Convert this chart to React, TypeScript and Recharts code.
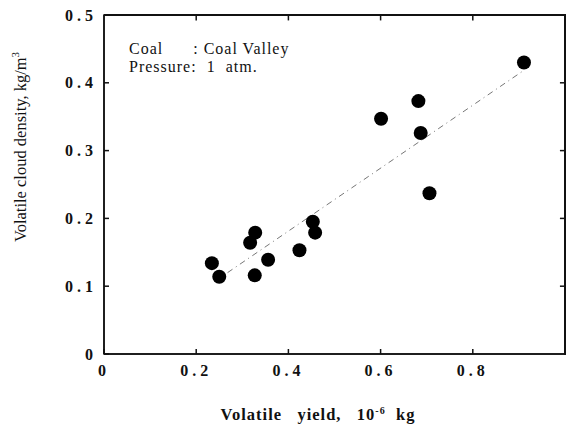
import React from 'react';
import { ScatterChart, Scatter, XAxis, YAxis, ReferenceLine, ReferenceArea } from 'recharts';

// measured points (Coal Valley, 1 atm)
const volatileYield = [0.234, 0.25, 0.317, 0.328, 0.327, 0.356, 0.424, 0.453, 0.458, 0.601, 0.682, 0.687, 0.706, 0.911];
const cloudDensity = [0.134, 0.114, 0.164, 0.179, 0.116, 0.139, 0.153, 0.195, 0.179, 0.347, 0.373, 0.326, 0.237, 0.43];

// fitted line end points
const fitYield = [0.268, 0.91];
const fitDensity = [0.12, 0.418];

const xTicks = [0, 0.2, 0.4, 0.6, 0.8];
const yTicks = [0, 0.1, 0.2, 0.3, 0.4, 0.5];
const xMax = 1;
const yMax = 0.5;
// inward tick length on the top / right frame, in data units
const xTickLen = 0.011;
const yTickLen = 0.008;

const SERIF = '"Liberation Serif", "Times New Roman", serif';

const points = volatileYield.map((x, i) => ({ x, y: cloudDensity[i] }));

const topTicks = xTicks.slice(1).map((t) => [
  { x: t, y: yMax },
  { x: t, y: yMax - yTickLen },
]);
const rightTicks = yTicks.slice(1, -1).map((t) => [
  { x: xMax, y: t },
  { x: xMax - xTickLen, y: t },
]);

const fmt = (v: number) => (v === 0 ? '0' : v.toFixed(1));

const tickStyle = { fontSize: 16, fontWeight: 'bold', fontFamily: SERIF, fill: '#111', letterSpacing: 4 };

const Dot = (props: any) => <circle cx={props.cx} cy={props.cy} r={7} fill="#000" />;
const NoDot = () => <g />;
const frameLine = { stroke: '#111', strokeWidth: 1.5 };

const App: React.FC = () => {
  return (
    <div style={{ position: 'absolute', left: 0, top: 0, width: 569, height: 426, background: '#fff' }}>
      <ScatterChart width={569} height={426} margin={{ top: 15, right: 4, bottom: 0, left: 0 }}>
        <XAxis
          type="number"
          dataKey="x"
          domain={[0, xMax]}
          ticks={xTicks}
          tickFormatter={fmt}
          height={72}
          stroke="#111"
          strokeWidth={1.5}
          tickSize={-5}
          tickMargin={16}
          tick={tickStyle}
        />
        <YAxis
          type="number"
          dataKey="y"
          domain={[0, yMax]}
          ticks={yTicks}
          tickFormatter={fmt}
          width={104}
          stroke="#111"
          strokeWidth={1.5}
          tickSize={-5}
          tickMargin={12}
          tick={tickStyle}
        />
        <ReferenceArea
          x1={0}
          x2={xMax}
          y1={0}
          y2={yMax}
          fill="none"
          fillOpacity={0}
          stroke="#111"
          strokeWidth={1.5}
          ifOverflow="visible"
        />
        {topTicks.map((d, i) => (
          <Scatter key={`tt${i}`} data={d} line={frameLine} shape={NoDot} isAnimationActive={false} legendType="none" />
        ))}
        {rightTicks.map((d, i) => (
          <Scatter key={`rt${i}`} data={d} line={frameLine} shape={NoDot} isAnimationActive={false} legendType="none" />
        ))}
        <ReferenceLine
          segment={[
            { x: fitYield[0], y: fitDensity[0] },
            { x: fitYield[1], y: fitDensity[1] },
          ]}
          stroke="#777"
          strokeWidth={1}
          strokeDasharray="6 4 1 4"
        />
        <Scatter data={points} fill="#000" isAnimationActive={false} shape={Dot} legendType="none" />
      </ScatterChart>

      {/* top and right edges of the plot box */}
      <div
        style={{
          position: 'absolute',
          left: 104,
          top: 14,
          width: 462,
          height: 341,
          boxSizing: 'border-box',
          borderTop: '2px solid #111',
          borderRight: '2px solid #111',
          pointerEvents: 'none',
        }}
      />

      <div style={{ position: 'absolute', left: 129, top: 40, fontFamily: SERIF, fontSize: 16, letterSpacing: 1, lineHeight: '18px', color: '#111', whiteSpace: 'pre' }}>
        <div>{'Coal      : Coal Valley'}</div>
        <div>{'Pressure:  1  atm.'}</div>
      </div>

      <div
        style={{
          position: 'absolute',
          left: 20,
          top: 147,
          transform: 'translate(-50%, -50%) rotate(-90deg)',
          fontFamily: SERIF,
          fontSize: 16.5,
          color: '#111',
          whiteSpace: 'nowrap',
        }}
      >
        Volatile cloud density, kg/m<sup style={{ fontSize: 11 }}>3</sup>
      </div>

      <div
        style={{
          position: 'absolute',
          left: 318,
          top: 415,
          transform: 'translate(-50%, -50%)',
          fontFamily: SERIF,
          fontSize: 16.5,
          fontWeight: 'bold',
          letterSpacing: 1,
          color: '#111',
          whiteSpace: 'pre',
        }}
      >
        {'Volatile   yield,   10'}
        <sup style={{ fontSize: 10 }}>-6</sup>
        {'  kg'}
      </div>
    </div>
  );
};

export default App;
